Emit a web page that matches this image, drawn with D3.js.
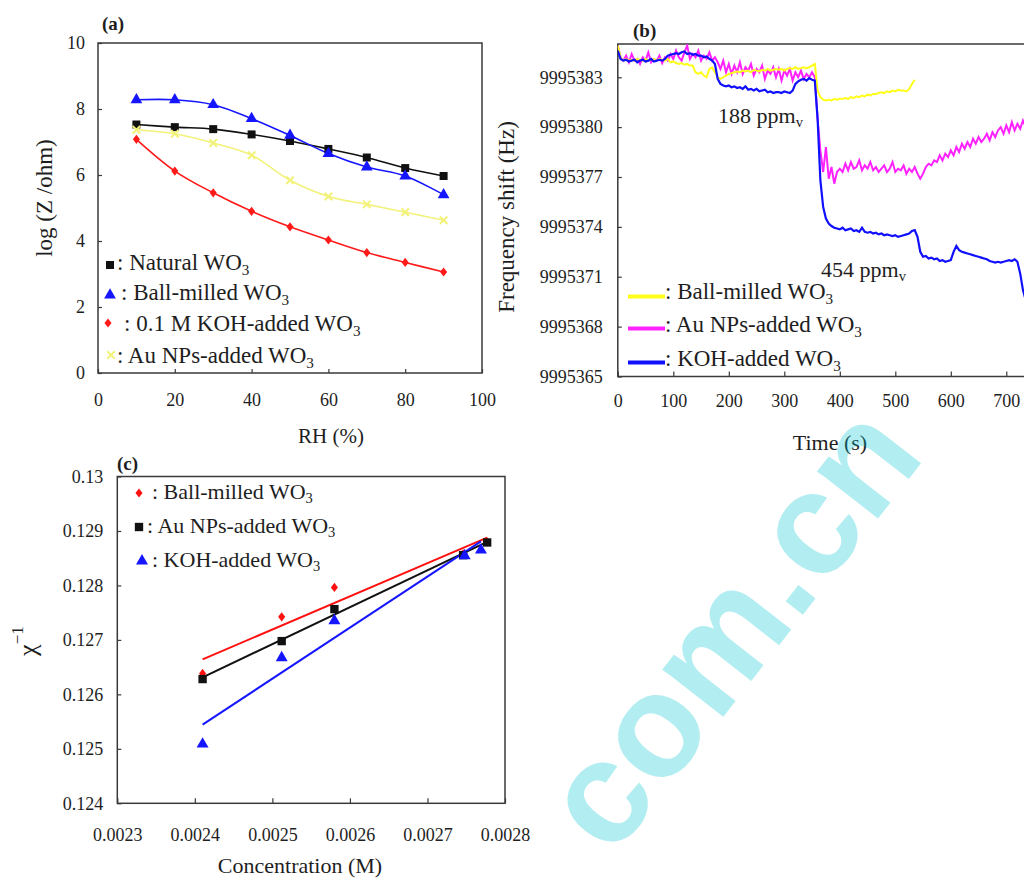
<!DOCTYPE html>
<html><head><meta charset="utf-8">
<script src="https://cdn.jsdelivr.net/npm/d3@7"></script>
<style>
body{margin:0;background:#fff}
svg{display:block}
text{font-family:"Liberation Serif","Times New Roman",serif;fill:#1e1e1e}
text.wm{font-family:"Liberation Sans",Arial,sans-serif;font-weight:bold;fill:rgb(0,200,210);fill-opacity:0.3}
</style></head>
<body><svg id="chart" width="1024" height="879"></svg>
<script>
// ---------- Panel (a) data ----------
const rhValues = [10, 20, 30, 40, 50, 60, 70, 80, 90];
const naturalLogZ = [7.53, 7.45, 7.39, 7.23, 7.03, 6.79, 6.53, 6.21, 5.97];
const ballMilledLogZ = [8.28, 8.28, 8.13, 7.71, 7.20, 6.65, 6.24, 5.97, 5.40];
const kohLogZ = [7.08, 6.12, 5.46, 4.90, 4.43, 4.03, 3.65, 3.35, 3.06];
const auLogZ = [7.37, 7.25, 6.97, 6.60, 5.84, 5.35, 5.11, 4.87, 4.63];
const aXTicks = [0, 20, 40, 60, 80, 100];
const aYTicks = [0, 2, 4, 6, 8, 10];

// ---------- Panel (b) data (sampled every 5 s) ----------
const sampleStep = 5;
const kohHz = [9995384.6,9995384.1,9995384.0,9995384.05,9995383.95,9995384.0,9995384.05,9995383.9,9995384.0,9995384.05,
9995383.95,9995384.0,9995384.1,9995383.95,9995384.0,9995384.05,9995384.0,9995384.1,9995384.3,9995384.35,
9995384.4,9995384.45,9995384.4,9995384.5,9995384.55,9995384.4,9995384.45,9995384.35,9995384.4,9995384.3,
9995384.3,9995384.2,9995384.25,9995384.1,9995384.0,9995383.8,9995382.9,9995382.6,9995382.5,9995382.45,
9995382.5,9995382.4,9995382.45,9995382.35,9995382.4,9995382.3,9995382.45,9995382.25,9995382.3,9995382.2,
9995382.3,9995382.15,9995382.2,9995382.25,9995382.1,9995382.15,9995382.05,9995382.1,9995382.1,9995382.05,
9995382.15,9995382.1,9995382.05,9995382.2,9995382.6,9995382.75,9995382.85,9995382.9,9995382.8,9995382.95,
9995382.85,9995382.8,9995380.5,9995376.8,9995375.2,9995374.5,9995374.2,9995374.05,9995373.95,9995373.9,
9995373.85,9995373.95,9995373.8,9995373.85,9995373.9,9995373.75,9995373.8,9995373.7,9995373.95,9995373.7,
9995373.65,9995373.7,9995373.6,9995373.65,9995373.55,9995373.6,9995373.5,9995373.55,9995373.5,9995373.45,
9995373.5,9995373.4,9995373.45,9995373.5,9995373.55,9995373.6,9995373.75,9995373.8,9995373.4,9995372.5,
9995372.2,9995372.25,9995372.1,9995372.15,9995372.05,9995372.1,9995371.95,9995372.0,9995371.9,9995371.95,
9995372.0,9995372.5,9995372.85,9995372.6,9995372.5,9995372.45,9995372.4,9995372.35,9995372.3,9995372.25,
9995372.2,9995372.15,9995372.1,9995372.05,9995371.95,9995371.9,9995371.85,9995371.9,9995371.85,9995371.9,
9995371.95,9995372.0,9995371.95,9995372.05,9995371.9,9995371.2,9995370.2,9995369.6,9995369.2,9995369.0,
9995368.9];
const auHz = [9995384.9,9995384.2,9995384.0,9995384.3,9995383.9,9995384.4,9995384.0,9995384.1,9995383.8,9995384.2,
9995384.0,9995384.5,9995383.9,9995384.1,9995384.0,9995384.3,9995383.85,9995384.2,9995384.0,9995384.4,
9995384.1,9995384.6,9995384.2,9995384.0,9995384.5,9995384.9,9995384.1,9995384.4,9995384.2,9995384.6,
9995384.0,9995384.3,9995384.1,9995384.5,9995384.0,9995384.2,9995383.9,9995383.5,9995384.0,9995383.3,
9995383.8,9995383.2,9995383.7,9995383.3,9995383.9,9995383.2,9995383.6,9995383.4,9995383.8,9995383.1,
9995383.5,9995383.3,9995383.7,9995382.9,9995383.4,9995383.2,9995383.6,9995383.0,9995383.5,9995382.8,
9995383.4,9995383.1,9995383.5,9995382.8,9995383.3,9995383.0,9995383.4,9995382.9,9995383.2,9995383.0,
9995383.3,9995383.0,9995380.5,9995378.6,9995377.3,9995378.8,9995376.9,9995377.6,9995376.6,9995377.3,
9995377.5,9995377.3,9995377.8,9995377.4,9995377.9,9995377.5,9995377.6,9995378.0,9995377.4,9995377.7,
9995377.5,9995377.9,9995377.4,9995377.6,9995377.3,9995377.5,9995377.7,9995377.3,9995377.5,9995377.9,
9995377.3,9995377.5,9995377.4,9995377.7,9995377.2,9995377.5,9995377.3,9995377.6,9995377.2,9995376.9,
9995377.2,9995377.6,9995377.8,9995377.7,9995378.0,9995377.9,9995378.3,9995378.0,9995378.4,9995378.2,
9995378.6,9995378.3,9995378.8,9995378.5,9995379.0,9995378.7,9995379.1,9995378.8,9995379.3,9995379.0,
9995379.4,9995379.1,9995379.3,9995379.6,9995379.2,9995379.7,9995379.4,9995379.8,9995380.0,9995379.6,
9995380.1,9995379.7,9995380.3,9995379.8,9995380.2,9995379.9,9995380.4,9995380.0,9995380.3];
const ballHz = [9995384.9,9995384.2,9995384.0,9995384.1,9995384.0,9995384.05,9995384.0,9995384.1,9995384.05,9995384.0,
9995384.1,9995384.0,9995384.05,9995384.1,9995384.0,9995384.1,9995384.05,9995384.0,9995384.1,9995383.9,
9995383.95,9995383.85,9995383.8,9995383.85,9995383.75,9995383.8,9995383.7,9995383.7,9995383.3,9995383.2,
9995383.3,9995383.1,9995383.0,9995383.5,9995383.6,9995383.3,9995383.0,9995382.9,9995383.0,9995383.1,
9995383.2,9995383.25,9995383.3,9995383.35,9995383.3,9995383.4,9995383.35,9995383.4,9995383.3,9995383.45,
9995383.4,9995383.35,9995383.45,9995383.4,9995383.5,9995383.4,9995383.45,9995383.5,9995383.45,9995383.5,
9995383.4,9995383.5,9995383.55,9995383.5,9995383.6,9995383.5,9995383.55,9995383.6,9995383.55,9995383.6,
9995383.7,9995383.8,9995382.2,9995381.8,9995381.65,9995381.6,9995381.65,9995381.6,9995381.7,9995381.65,
9995381.7,9995381.7,9995381.75,9995381.7,9995381.8,9995381.75,9995381.85,9995381.8,9995381.9,9995381.85,
9995381.95,9995381.9,9995382.0,9995382.0,9995382.05,9995382.1,9995382.05,9995382.15,9995382.1,9995382.2,
9995382.15,9995382.25,9995382.2,9995382.2,9995382.15,9995382.3,9995382.6,9995382.85];
const bXTicks = [0, 100, 200, 300, 400, 500, 600, 700];
const bYTicks = [9995365, 9995368, 9995371, 9995374, 9995377, 9995380, 9995383];

// ---------- Panel (c) data ----------
const concX = [0.00241, 0.002512, 0.00258, 0.002746, 0.002777];
const kohConcX = [0.00241, 0.002512, 0.00258, 0.002748, 0.002769];
const ballInvChi = [0.126385, 0.127424, 0.127963, 0.12858, 0.12880];
const auInvChi = [0.126281, 0.126978, 0.127565, 0.128556, 0.128789];
const kohInvChi = [0.125088, 0.126672, 0.127351, 0.128545, 0.128648];
const cXTicks = [0.0023, 0.0024, 0.0025, 0.0026, 0.0027, 0.0028];
const cYTicks = [0.124, 0.125, 0.126, 0.127, 0.128, 0.129, 0.130];

// ---------- helpers ----------
const svg = d3.select("#chart");
const FRAME = "#3a3a3a";

function label(g, x, y, parts, o = {}) {
  const size = o.size || 22;
  const t = g.append("text").attr("x", x).attr("y", y)
    .attr("font-size", size).attr("text-anchor", o.anchor || "start");
  if (o.weight) t.attr("font-weight", o.weight);
  if (o.rotate) t.attr("transform", `rotate(${o.rotate},${x},${y})`);
  parts.forEach(p => {
    if (typeof p === "string") t.append("tspan").text(p);
    else if (p.sub !== undefined) t.append("tspan").attr("font-size", size * 0.66).attr("dy", "0.3em").text(p.sub);
    else if (p.sup !== undefined) t.append("tspan").attr("font-size", size * 0.66).attr("dy", "-0.75em").text(p.sup);
  });
  return t;
}
const diamondSym = { draw(ctx, size) { const w = Math.sqrt(size) * 0.5, h = w * 1.3; ctx.moveTo(0, -h); ctx.lineTo(w, 0); ctx.lineTo(0, h); ctx.lineTo(-w, 0); ctx.closePath(); } };
const xSym = { draw(ctx, size) { const r = Math.sqrt(size) * 0.5; ctx.moveTo(-r, -r); ctx.lineTo(r, r); ctx.moveTo(r, -r); ctx.lineTo(-r, r); } };

function styleAxis(g, fs) {
  g.select(".domain").remove();
  g.selectAll(".tick line").attr("stroke", FRAME).attr("stroke-width", 1.2);
  g.selectAll(".tick text").attr("font-size", fs).attr("fill", "#1e1e1e");
}

// ================= Panel (a) =================
{
  const x = d3.scaleLinear().domain([0, 100]).range([98, 482]);
  const y = d3.scaleLinear().domain([0, 10]).range([373, 43]);
  const g = svg.append("g");
  g.append("g").attr("transform", "translate(0,373)")
    .call(d3.axisBottom(x).tickValues(aXTicks).tickSizeInner(-4).tickSizeOuter(0).tickPadding(20))
    .call(a => styleAxis(a, 18));
  g.append("g").attr("transform", "translate(98,0)")
    .call(d3.axisLeft(y).tickValues(aYTicks).tickSizeInner(-4).tickSizeOuter(0).tickPadding(13))
    .call(a => styleAxis(a, 18));
  g.append("rect").attr("x", 98).attr("y", 43).attr("width", 384).attr("height", 330)
    .attr("fill", "none").attr("stroke", FRAME).attr("stroke-width", 1.5);

  const series = [
    { v: naturalLogZ, c: "#111", sym: d3.symbolSquare, size: 64, fill: "#111" },
    { v: ballMilledLogZ, c: "#1515ff", sym: d3.symbolTriangle, size: 60, fill: "#1515ff" },
    { v: kohLogZ, c: "#ff1a1a", sym: diamondSym, size: 50, fill: "#ff1a1a" },
    { v: auLogZ, c: "#f2f27a", sym: xSym, size: 56, fill: "none" }
  ];
  const line = d3.line().x((d, i) => x(rhValues[i])).y(d => y(d)).curve(d3.curveCatmullRom.alpha(0.5));
  series.forEach(s => {
    g.append("path").attr("d", line(s.v)).attr("fill", "none").attr("stroke", s.c).attr("stroke-width", 1.6);
  });
  series.forEach(s => {
    g.selectAll(null).data(s.v).join("path")
      .attr("transform", (d, i) => `translate(${x(rhValues[i])},${y(d)})`)
      .attr("d", d3.symbol(s.sym, s.size))
      .attr("fill", s.fill).attr("stroke", s.fill === "none" ? s.c : "none").attr("stroke-width", 2);
  });
  const leg = [
    { s: series[0], mx: 110, my: 265, tx: 117, ty: 270, parts: [": Natural WO", { sub: "3" }] },
    { s: series[1], mx: 110, my: 295, tx: 121, ty: 300, parts: [": Ball-milled WO", { sub: "3" }] },
    { s: series[2], mx: 108, my: 323, tx: 124, ty: 331, parts: [": 0.1 M KOH-added WO", { sub: "3" }] },
    { s: series[3], mx: 111, my: 355, tx: 117, ty: 363, parts: [": Au NPs-added WO", { sub: "3" }] }
  ];
  leg.forEach(l => {
    g.append("path").attr("transform", `translate(${l.mx},${l.my})`)
      .attr("d", d3.symbol(l.s.sym, l.s.size))
      .attr("fill", l.s.fill).attr("stroke", l.s.fill === "none" ? l.s.c : "none").attr("stroke-width", 2);
    label(g, l.tx, l.ty, l.parts, { size: 23 });
  });
  label(g, 102, 30, ["(a)"], { size: 19, weight: "bold" });
  label(g, 331, 443, ["RH (%)"], { size: 21, anchor: "middle" });
  label(g, 52, 198, ["log (Z /ohm)"], { size: 23, anchor: "middle", rotate: -90 });
}

// ================= Panel (b) =================
{
  const x = d3.scaleLinear().domain([0, 800]).range([617.8, 1061.8]);
  const y = d3.scaleLinear().domain([9995365, 9995385]).range([376.5, 44]);
  const g = svg.append("g");
  g.append("defs").append("clipPath").attr("id", "clipB")
    .append("rect").attr("x", 617.8).attr("y", 44).attr("width", 444).attr("height", 332.5);
  g.append("g").attr("transform", "translate(0,376.5)")
    .call(d3.axisBottom(x).tickValues(bXTicks).tickSizeInner(-5).tickSizeOuter(0).tickPadding(18))
    .call(a => styleAxis(a, 18));
  g.append("g").attr("transform", "translate(617.8,0)")
    .call(d3.axisLeft(y).tickValues(bYTicks).tickFormat(d3.format("d")).tickSizeInner(-4).tickSizeOuter(0).tickPadding(15))
    .call(a => styleAxis(a, 18));
  g.append("rect").attr("x", 617.8).attr("y", 44).attr("width", 444).attr("height", 332.5)
    .attr("fill", "none").attr("stroke", FRAME).attr("stroke-width", 1.5);

  const mk = arr => d3.line().x((d, i) => x(i * sampleStep)).y(d => y(d))(arr);
  const pl = g.append("g").attr("clip-path", "url(#clipB)");
  pl.append("path").attr("d", mk(auHz)).attr("fill", "none").attr("stroke", "#ff22ff").attr("stroke-width", 2);
  pl.append("path").attr("d", mk(ballHz)).attr("fill", "none").attr("stroke", "#ffff1a").attr("stroke-width", 2);
  pl.append("path").attr("d", mk(kohHz)).attr("fill", "none").attr("stroke", "#1010ff").attr("stroke-width", 2.2);

  const legB = [
    { c: "#ffff1a", y: 296.5, ty: 299, parts: [": Ball-milled WO", { sub: "3" }] },
    { c: "#ff22ff", y: 328.5, ty: 332, parts: [": Au NPs-added WO", { sub: "3" }] },
    { c: "#1010ff", y: 362.5, ty: 366, parts: [": KOH-added WO", { sub: "3" }] }
  ];
  legB.forEach(l => {
    g.append("line").attr("x1", 628).attr("x2", 665).attr("y1", l.y).attr("y2", l.y)
      .attr("stroke", l.c).attr("stroke-width", 4);
    label(g, 665, l.ty, l.parts, { size: 23 });
  });
  label(g, 718, 123, ["188 ppm", { sub: "v" }], { size: 22 });
  label(g, 821, 277, ["454 ppm", { sub: "v" }], { size: 22 });
  label(g, 633, 37, ["(b)"], { size: 19, weight: "bold" });
  label(g, 830, 450, ["Time (s)"], { size: 22, anchor: "middle" });
  label(g, 514, 217, ["Frequency shift (Hz)"], { size: 23, anchor: "middle", rotate: -90 });
}

// ================= Panel (c) =================
{
  const x = d3.scaleLinear().domain([0.0023, 0.0028]).range([117.3, 505]);
  const y = d3.scaleLinear().domain([0.124, 0.130]).range([803.3, 476.5]);
  const g = svg.append("g");
  g.append("g").attr("transform", "translate(0,803.3)")
    .call(d3.axisBottom(x).tickValues(cXTicks).tickFormat(d3.format(".4f")).tickSizeInner(-5).tickSizeOuter(0).tickPadding(25))
    .call(a => styleAxis(a, 18));
  g.append("g").attr("transform", "translate(117.3,0)")
    .call(d3.axisLeft(y).tickValues(cYTicks).tickFormat(d3.format(".3~f")).tickSizeInner(-4).tickSizeOuter(0).tickPadding(14))
    .call(a => styleAxis(a, 18));
  g.append("rect").attr("x", 117.3).attr("y", 476.5).attr("width", 387.7).attr("height", 326.8)
    .attr("fill", "none").attr("stroke", FRAME).attr("stroke-width", 1.5);

  function fit(xs, ys) {
    const mx = d3.mean(xs), my = d3.mean(ys);
    let sxy = 0, sxx = 0;
    xs.forEach((v, i) => { sxy += (v - mx) * (ys[i] - my); sxx += (v - mx) * (v - mx); });
    const b = sxy / sxx;
    const x0 = d3.min(xs), x1 = d3.max(xs);
    return [[x0, my + b * (x0 - mx)], [x1, my + b * (x1 - mx)]];
  }
  const sets = [
    { xs: concX, ys: ballInvChi, c: "#ff1010", sym: diamondSym, size: 50 },
    { xs: concX, ys: auInvChi, c: "#111", sym: d3.symbolSquare, size: 70 },
    { xs: kohConcX, ys: kohInvChi, c: "#1515ff", sym: d3.symbolTriangle, size: 62 }
  ];
  sets.forEach(s => {
    const f = fit(s.xs, s.ys);
    g.append("line").attr("x1", x(f[0][0])).attr("y1", y(f[0][1])).attr("x2", x(f[1][0])).attr("y2", y(f[1][1]))
      .attr("stroke", s.c).attr("stroke-width", 2);
  });
  sets.forEach(s => {
    g.selectAll(null).data(s.ys).join("path")
      .attr("transform", (d, i) => `translate(${x(s.xs[i])},${y(d)})`)
      .attr("d", d3.symbol(s.sym, s.size)).attr("fill", s.c);
  });
  const legC = [
    { s: sets[0], mx: 139, my: 493, tx: 152, ty: 499, parts: [": Ball-milled WO", { sub: "3" }] },
    { s: sets[1], mx: 139, my: 527, tx: 147, ty: 533, parts: [": Au NPs-added WO", { sub: "3" }] },
    { s: sets[2], mx: 142, my: 561, tx: 152, ty: 567, parts: [": KOH-added WO", { sub: "3" }] }
  ];
  legC.forEach(l => {
    g.append("path").attr("transform", `translate(${l.mx},${l.my})`)
      .attr("d", d3.symbol(l.s.sym, l.s.size)).attr("fill", l.s.c);
    label(g, l.tx, l.ty, l.parts, { size: 22 });
  });
  label(g, 117, 470, ["(c)"], { size: 19, weight: "bold" });
  label(g, 300, 873, ["Concentration (M)"], { size: 22, anchor: "middle" });
  label(g, 36, 641, ["\u03C7", { sup: "\u22121" }], { size: 26, anchor: "middle", rotate: -90 });
}

// ================= watermark =================
svg.append("text").attr("class", "wm").attr("x", 612).attr("y", 859)
  .attr("transform", "rotate(-52,612,859)")
  .attr("font-size", 146)
  .text("com.cn");
</script>
</body></html>
